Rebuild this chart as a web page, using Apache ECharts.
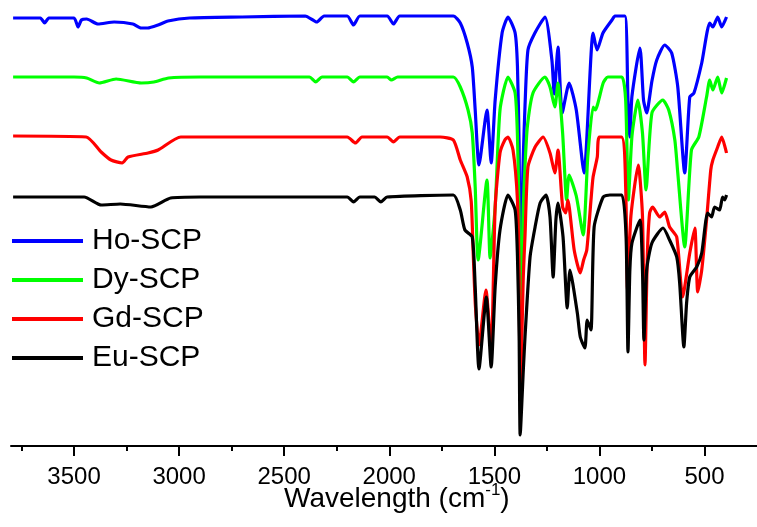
<!DOCTYPE html>
<html><head><meta charset="utf-8">
<script src="https://cdn.jsdelivr.net/npm/echarts@6/dist/echarts.min.js"></script>
<style>html,body{margin:0;padding:0;background:#fff}#c{width:757px;height:527px}</style>
</head><body><div id="c"></div>
<script>
// Series names and vertical offsets (stacked spectra, arbitrary units)
const seriesNames = ['Ho-SCP', 'Dy-SCP', 'Gd-SCP', 'Eu-SCP'];
const seriesOffsets = [330, 270, 210, 150];
const majorTicks = [3500, 3000, 2500, 2000, 1500, 1000, 500];
const minorTicks = [3750, 3250, 2750, 2250, 1750, 1250, 750];

// [wavenumber (cm-1), transmittance (a.u.)]
const hoSCP = [[3790,98],[3660,98],[3640,93],[3620,98],[3500,98],[3481,89],[3465,96],[3440,97],[3386,92],[3309,94],[3220,92],[3181,88],[3150,88],[3100,91],[3053,95],[2950,98],[2700,99],[2400,100],[2345,94],[2310,100],[2200,100],[2170,91],[2140,100],[2010,100],[1980,92],[1950,100],[1695,100],[1662,93],[1629,73],[1605,49],[1591,6],[1573,-49],[1535,6],[1515,-47],[1496,16],[1463,83],[1435,99],[1401,83],[1390,50],[1382,-30],[1377,-160],[1362,-40],[1354,10],[1340,66],[1307,83],[1259,99],[1226,56],[1215,22],[1197,69],[1177,3],[1144,33],[1110,6],[1073,-57],[1030,83],[1011,66],[983,83],[940,96],[926,100],[879,100],[864,16],[855,-21],[845,20],[807,68],[790,16],[775,3],[750,35],[727,56],[689,71],[656,63],[627,29],[594,-57],[570,19],[550,23],[513,53],[475,93],[460,89],[437,99],[418,89],[395,99]];
const dySCP = [[3790,99],[3500,99],[3440,98],[3380,93],[3300,97],[3180,93],[3120,94],[3050,98],[2900,99],[2380,99],[2350,94],[2320,99],[2200,99],[2170,94],[2140,99],[2010,99],[1990,96],[1960,99],[1695,99],[1662,89],[1625,66],[1605,43],[1591,-11],[1577,-84],[1535,-4],[1520,-82],[1496,-31],[1473,66],[1435,99],[1401,83],[1390,40],[1382,-40],[1377,-167],[1362,-30],[1354,10],[1343,49],[1316,83],[1259,99],[1235,89],[1212,69],[1197,93],[1175,43],[1156,-24],[1144,1],[1110,-20],[1077,-59],[1055,20],[1030,69],[1020,66],[982,93],[960,99],[893,99],[875,76],[862,-24],[845,40],[817,76],[795,43],[778,-14],[750,63],[698,76],[670,66],[641,36],[627,3],[594,-71],[562,26],[527,39],[490,79],[475,96],[460,86],[437,99],[418,83],[395,98]];
const gdSCP = [[3790,100],[3442,99],[3371,84],[3324,76],[3271,73],[3243,79],[3148,83],[3100,86],[2992,99],[2200,99],[2161,93],[2130,99],[2010,99],[1980,94],[1950,99],[1757,99],[1695,96],[1662,76],[1629,59],[1610,35],[1600,-20],[1590,-70],[1573,-109],[1540,-54],[1515,-114],[1496,29],[1473,83],[1450,96],[1435,99],[1411,86],[1390,36],[1382,-40],[1377,-164],[1362,-40],[1354,0],[1340,69],[1306,89],[1268,99],[1235,83],[1212,63],[1197,86],[1175,29],[1160,23],[1150,36],[1120,-14],[1091,-37],[1075,-24],[1060,-14],[1040,36],[1030,59],[1010,79],[1000,99],[895,99],[875,49],[866,-54],[850,20],[815,71],[795,20],[783,-129],[772,-20],[761,23],[747,29],[713,19],[689,24],[666,9],[632,-1],[604,-61],[570,-17],[546,8],[532,-56],[513,-34],[490,16],[470,66],[460,76],[437,89],[418,99],[395,83]];
const euSCP = [[3790,99],[3452,99],[3370,91],[3280,92],[3134,89],[3040,98],[2900,99],[2200,99],[2170,94],[2140,99],[2070,99],[2040,94],[2010,99],[1695,101],[1662,86],[1640,66],[1605,59],[1591,9],[1573,-73],[1538,-1],[1515,-71],[1496,9],[1473,66],[1435,101],[1401,86],[1390,40],[1382,-40],[1377,-139],[1362,-74],[1354,-41],[1330,39],[1306,69],[1282,93],[1254,101],[1235,79],[1220,19],[1207,76],[1197,93],[1173,59],[1153,-12],[1140,26],[1105,-17],[1091,-41],[1069,-52],[1058,-24],[1040,-34],[1025,69],[982,99],[950,101],[893,101],[873,59],[864,-56],[855,26],[845,53],[807,76],[795,26],[788,-44],[775,26],[750,53],[697,68],[666,56],[632,39],[618,13],[598,-51],[585,-7],[570,19],[537,29],[513,43],[485,83],[466,79],[452,89],[428,86],[414,99],[404,96],[395,101]];

const spectra = [hoSCP, dySCP, gdSCP, euSCP];
const colors = ['#0000ff', '#00ff00', '#ff0000', '#000000'];
const FONT = 'Liberation Sans, Arial, sans-serif';

const chart = echarts.init(document.getElementById('c'), null, {renderer: 'canvas'});
chart.setOption({
  animation: false,
  backgroundColor: '#ffffff',
  grid: {left: 11, right: 0, top: 0, bottom: 81, containLabel: false},
  title: {
    text: 'Wavelength (cm{sup|-1})',
    left: 284, top: 482, padding: 0,
    textStyle: {
      fontFamily: FONT, fontSize: 28, fontWeight: 'normal', color: '#000', lineHeight: 34,
      rich: {sup: {fontFamily: FONT, fontSize: 17, color: '#000', verticalAlign: 'top', lineHeight: 17}}
    }
  },
  legend: {
    orient: 'vertical', left: 12, top: 226, padding: 0,
    itemWidth: 71, itemHeight: 4, itemGap: 9, icon: 'rect',
    textStyle: {fontFamily: FONT, fontSize: 30, lineHeight: 30, color: '#000', padding: [0, 0, 0, 4]},
    data: seriesNames
  },
  xAxis: [{
    type: 'value', inverse: true, min: 250, max: 3800, position: 'bottom',
    splitLine: {show: false},
    axisLine: {show: true, onZero: false, lineStyle: {color: '#000', width: 2}},
    axisTick: {show: true, customValues: majorTicks, length: 10, lineStyle: {color: '#000', width: 2}},
    axisLabel: {show: true, customValues: majorTicks, margin: 19, fontFamily: FONT, fontSize: 24, color: '#000',
      formatter: v => String(v)}
  }, {
    type: 'value', inverse: true, min: 250, max: 3800, position: 'bottom',
    splitLine: {show: false},
    axisLine: {show: false, onZero: false},
    axisTick: {show: true, customValues: minorTicks, length: 5, lineStyle: {color: '#000', width: 2}},
    axisLabel: {show: false}
  }],
  yAxis: {type: 'value', min: 0, max: 446, show: false},
  series: spectra.map((arr, i) => ({
    name: seriesNames[i],
    type: 'line',
    xAxisIndex: 0,
    showSymbol: false,
    symbol: 'none',
    smooth: 0.2,
    color: colors[i],
    lineStyle: {width: 3.2, color: colors[i]},
    data: arr.map(p => [p[0], p[1] + seriesOffsets[i]])
  }))
});
</script></body></html>
